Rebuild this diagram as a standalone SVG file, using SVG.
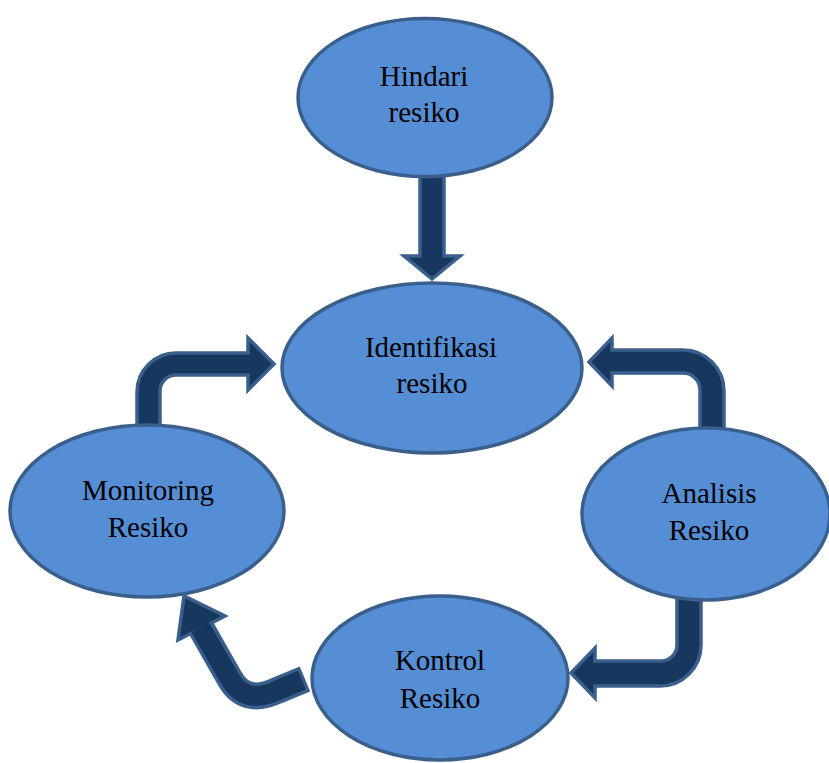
<svg xmlns="http://www.w3.org/2000/svg" width="829" height="763" viewBox="0 0 829 763">
<style>
.node{fill:#558ED5;stroke:#3A5F8C;stroke-width:3.5}
.arr{fill:#17375E;stroke:#3A5F8C;stroke-width:3.5;stroke-linejoin:miter}
.t{font-family:"Liberation Serif","Times New Roman",serif;font-size:29px;fill:#000;text-anchor:middle}
</style>
<rect width="829" height="763" fill="#fff"/>
<g id="connectors">
<path class="arr" d="M 420 172 L 420 256 L 404 256 L 432 279 L 460 256 L 444 256 L 444 172 Z"/>
<path class="arr" d="M 137 430 L 137 392 A 39 39 0 0 1 176 353 L 248 353 L 248 338 L 274 364 L 248 390 L 248 375 L 176 375 A 16 16 0 0 0 160 391 L 160 430 Z"/>
<path class="arr" d="M 612 350 L 683 350 A 41 41 0 0 1 724 391 L 724 434 L 700 434 L 700 390 A 17 17 0 0 0 683 373 L 612 373 L 612 386 L 589 362 L 612 338 Z"/>
<path class="arr" d="M 677 596 L 677 645 A 16 16 0 0 1 661 661 L 595 661 L 595 648 L 571 673 L 595 698 L 595 686 L 660 686 A 41 41 0 0 0 701 645 L 701 596 Z"/>
<g id="arrow-kontrol-monitoring">
<path d="M 305 679 L 276 691 Q 245 705 230 679 L 201 628" fill="none" stroke="#3A5F8C" stroke-width="27"/>
<polygon points="184,596 178,640 225,616" fill="#17375E" stroke="#3A5F8C" stroke-width="3.5" stroke-linejoin="miter"/>
<path d="M 302 680 L 276 691 Q 245 705 230 679 L 200 627" fill="none" stroke="#17375E" stroke-width="20"/>
</g>
</g>
<g id="hindari">
<ellipse class="node" cx="425" cy="97.5" rx="127" ry="79"/>
<text class="t" x="424" y="86">Hindari</text>
<text class="t" x="424" y="122">resiko</text>
</g>
<g id="identifikasi">
<ellipse class="node" cx="432" cy="368" rx="150" ry="85"/>
<text class="t" x="431" y="357">Identifikasi</text>
<text class="t" x="432" y="393">resiko</text>
</g>
<g id="monitoring">
<ellipse class="node" cx="147" cy="511" rx="137" ry="86"/>
<text class="t" x="148" y="500">Monitoring</text>
<text class="t" x="148" y="537">Resiko</text>
</g>
<g id="analisis">
<ellipse class="node" cx="706" cy="514" rx="124" ry="86"/>
<text class="t" x="709" y="503">Analisis</text>
<text class="t" x="709" y="540">Resiko</text>
</g>
<g id="kontrol">
<ellipse class="node" cx="440" cy="678" rx="128" ry="82"/>
<text class="t" x="440" y="670">Kontrol</text>
<text class="t" x="440" y="708">Resiko</text>
</g>
</svg>
